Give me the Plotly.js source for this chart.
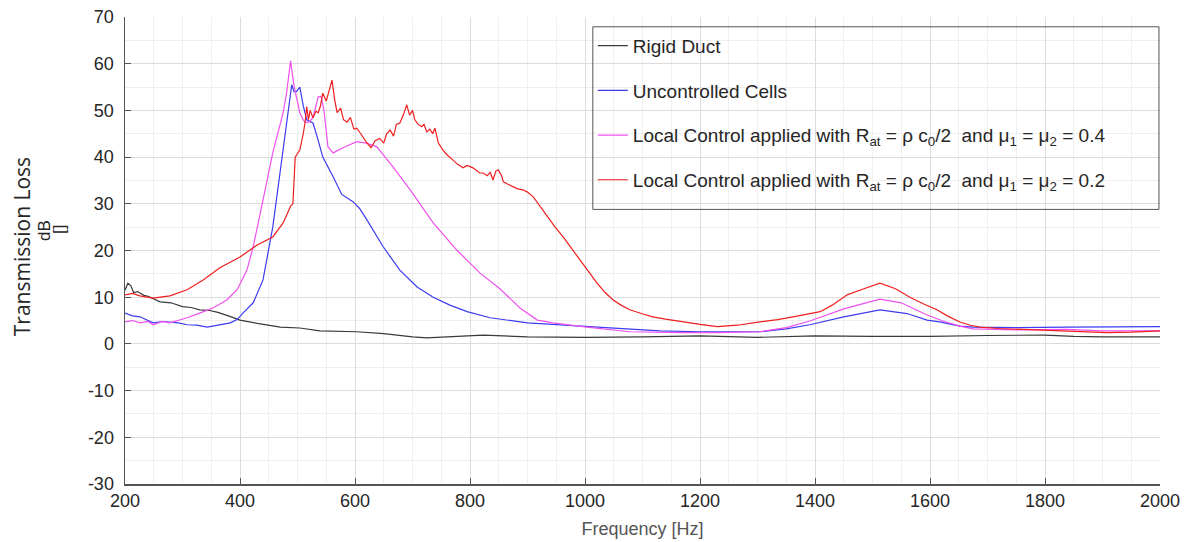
<!DOCTYPE html>
<html>
<head>
<meta charset="utf-8">
<script src="https://cdn.plot.ly/plotly-3.0.1.min.js"></script>
<style>html,body{margin:0;padding:0;background:#fff;}#chart{width:1188px;height:542px;}</style>
</head>
<body>
<div id="chart"></div>
<script>
// ---- Data ----
const seriesNames = [
  "Rigid Duct",
  "Uncontrolled Cells",
  "Local Control applied with R<sub>at</sub> = \u03C1 c<sub>0</sub>/2  and \u03BC<sub>1</sub> = \u03BC<sub>2</sub> = 0.4",
  "Local Control applied with R<sub>at</sub> = \u03C1 c<sub>0</sub>/2  and \u03BC<sub>1</sub> = \u03BC<sub>2</sub> = 0.2"
];

const rigidFreq = [200,205,210,215,222,226,233,240,261,280,300,315,330,345,360,380,400,430,470,504,539,603,650,700,725,760,823,900,1000,1100,1200,1300,1400,1500,1600,1700,1800,1850,1900,2000];
const rigidTL   = [11.5,13,12.5,11,11.2,10.9,10.4,10.2,9,8.8,8,7.8,7.3,7.2,6.8,6.0,5.1,4.4,3.6,3.4,2.8,2.6,2.2,1.5,1.3,1.5,1.9,1.5,1.4,1.5,1.7,1.4,1.7,1.6,1.6,1.8,1.9,1.6,1.5,1.5];

const uncFreq = [200,213,226,240,249,265,278,293,308,325,343,363,383,395,405,423,440,457,475,485,490,494,498,504,510,516,527,535,544,562,577,597,608,621,649,678,708,736,765,795,835,900,1000,1130,1200,1304,1350,1391,1450,1513,1560,1595,1617,1652,1675,1750,1838,1900,2000];
const uncTL   = [6.6,6.0,5.8,5.0,4.5,4.8,4.7,4.5,4.1,4.0,3.6,4.0,4.5,5.2,6.6,8.8,13.7,25,41.5,50,55.5,54,54,55,51,48,47.3,44,40,35.8,32,30.4,29,26.5,20.8,15.8,12.2,10,8.3,6.9,5.6,4.5,3.8,2.8,2.6,2.6,3.2,4.1,5.8,7.3,6.5,5.1,4.7,3.8,3.6,3.5,3.6,3.6,3.7];

const lc04Freq = [200,213,226,240,249,265,278,293,308,330,353,377,395,412,423,440,457,475,481,488,493,498,504,510,513,520,527,536,541,546,553,562,579,603,620,638,666,696,736,777,817,852,887,917,944,1003,1078,1165,1230,1304,1350,1391,1450,1513,1550,1595,1625,1652,1675,1750,1838,1900,2000];
const lc04TL   = [4.7,5.0,4.5,4.8,4.1,4.8,4.5,5.0,5.6,6.6,7.7,9.4,11.6,15.8,20.8,30.8,40.9,49.5,53.7,60.6,56,52.9,49.5,48,47.5,47.5,48.5,52.9,53,50,42.2,40.9,42,43.3,43,42.2,37.9,33,25.9,20.1,15.2,11.8,7.7,5.1,4.5,3.6,2.6,2.4,2.4,2.6,3.5,4.9,7.5,9.6,8.8,6.2,4.8,3.8,3.2,3.0,3.1,2.8,2.8];

const lc02Freq = [200,213,226,249,278,308,336,365,400,430,457,475,488,492,496,504,510,513,516,519,522,527,532,536,540,544,550,556,560,565,569,575,580,586,592,598,603,610,615,621,628,635,643,650,655,661,667,672,678,684,690,695,700,704,710,716,720,725,730,735,739,745,753,760,770,778,788,795,805,812,817,823,830,835,840,845,849,855,858,866,875,883,892,900,910,920,934,948,962,976,991,1006,1021,1035,1049,1064,1078,1098,1118,1140,1165,1200,1230,1265,1304,1335,1362,1385,1409,1430,1456,1485,1513,1540,1565,1590,1612,1630,1652,1670,1687,1720,1760,1791,1850,1908,1950,2000];
const lc02TL   = [10.5,10.8,10.3,9.8,10.3,11.6,13.7,16.3,18.6,21.2,22.9,25.9,29.5,30,40,41.5,45,47.3,50.8,48,50,48.4,49.8,49.5,51,53.7,52,55,56.5,52,49.5,50.5,48,47.5,48.5,46,46.2,45,44,43,42,43.5,44,43,45,45.8,44.5,47,47.3,49,51.2,49,50,48,47,46.5,47,45.4,46,45,46.2,43,41.5,40.5,39.4,38.5,37.7,38.2,37.7,37,36.6,36.6,36,36.8,35.1,37,37.3,36,34.7,34.2,33.6,33.2,33,32.5,31.5,29.8,27.2,25,22.9,20.5,18,15.5,13,11,9.4,8.2,7.3,6.5,5.8,5.3,4.8,4.2,3.7,4.0,4.7,5.2,5.8,6.3,6.9,8.3,10.5,11.8,13,11.8,10,8.5,7.3,6,4.7,4,3.6,3.3,3.1,3.0,2.8,2.4,2.5,2.8];

const xTickVals = [200,400,600,800,1000,1200,1400,1600,1800,2000];
const yTickVals = [-30,-20,-10,0,10,20,30,40,50,60,70];

// ---- Traces ----
const colors = ["#3a3a3a", "#3c3cf0", "#f050f0", "#f01e1e"];
const xs = [rigidFreq, uncFreq, lc04Freq, lc02Freq];
const ys = [rigidTL, uncTL, lc04TL, lc02TL];
const traces = xs.map((x, i) => ({
  x: x, y: ys[i], type: "scatter", mode: "lines",
  name: seriesNames[i], legendgroup: "g" + i,
  line: {color: colors[i], width: 1.2}
}));

const tickFont = {family: "Liberation Sans, Arial, sans-serif", size: 18, color: "#262626"};

const layout = {
  width: 1188, height: 542,
  margin: {l: 125, r: 28, t: 17, b: 58},
  paper_bgcolor: "#ffffff", plot_bgcolor: "#ffffff",
  showlegend: true,
  legend: {
    x: 0.452, y: 0.979, xanchor: "left", yanchor: "top",
    bgcolor: "rgba(0,0,0,0)", borderwidth: 0,
    font: {family: "Liberation Sans, Arial, sans-serif", size: 19, color: "#262626"},
    traceorder: "grouped", tracegroupgap: 17, itemwidth: 30
  },
  shapes: [
    {type: "rect", xref: "paper", yref: "paper", x0: 0.452, x1: 0.999, y0: 0.588, y1: 0.979,
     layer: "above", fillcolor: "rgba(0,0,0,0)", line: {color: "#555555", width: 1}},
    {type: "rect", xref: "paper", yref: "paper", x0: 0.452, x1: 0.999, y0: 0.588, y1: 0.979,
     layer: "between", fillcolor: "#ffffff", line: {width: 0}}
  ],
  xaxis: {
    range: [200, 2000], tickvals: xTickVals, ticktext: xTickVals.map(String),
    ticks: "inside", ticklen: 6, tickcolor: "#555", showline: true, linecolor: "#555", linewidth: 1.5,
    showgrid: true, gridcolor: "#dcdcdc", gridwidth: 1, zeroline: false,
    minor: {dtick: 50, showgrid: true, gridcolor: "#efefef", gridwidth: 1},
    tickfont: tickFont,
    title: {text: "Frequency [Hz]", font: {family: "Liberation Sans, Arial, sans-serif", size: 18, color: "#555555"}, standoff: 12}
  },
  yaxis: {
    range: [-30, 70], tickvals: yTickVals, ticktext: yTickVals.map(String),
    ticks: "inside", ticklen: 6, tickcolor: "#555", showline: true, linecolor: "#555", linewidth: 1.5,
    showgrid: true, gridcolor: "#dcdcdc", gridwidth: 1, zeroline: false,
    minor: {dtick: 5, showgrid: true, gridcolor: "#efefef", gridwidth: 1},
    tickfont: tickFont, ticklabelstandoff: 6
  },
  annotations: [
    {text: "Transmission Loss", xref: "paper", yref: "paper", x: -0.0995, y: 0.507, xanchor: "center", yanchor: "middle",
     textangle: -90, showarrow: false, font: {family: "Open Sans, sans-serif", size: 21, color: "#262626"}},
    {text: "dB", xref: "paper", yref: "paper", x: -0.0773, y: 0.544, xanchor: "center", yanchor: "middle",
     textangle: -90, showarrow: false, font: {family: "Liberation Sans, Arial, sans-serif", size: 17, color: "#262626"}},
    {text: "[]", xref: "paper", yref: "paper", x: -0.0628, y: 0.544, xanchor: "center", yanchor: "middle",
     textangle: -90, showarrow: false, font: {family: "Liberation Sans, Arial, sans-serif", size: 17, color: "#262626"}}
  ]
};

Plotly.newPlot("chart", traces, layout, {displayModeBar: false, staticPlot: true});
</script>
</body>
</html>
